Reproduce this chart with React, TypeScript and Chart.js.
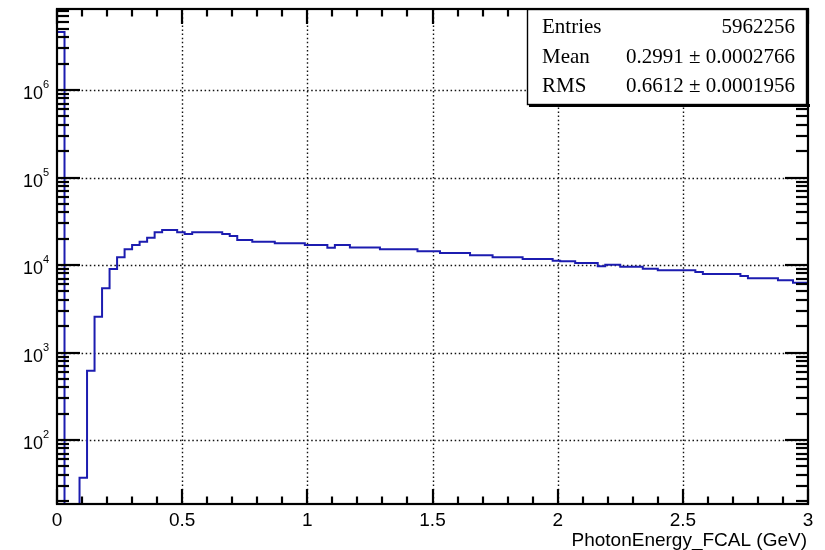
import React, { useEffect, useRef } from 'react';
import { Chart, registerables } from 'chart.js';

Chart.register(...registerables);

// ---- data ----
const X_MIN = 0;
const X_MAX = 3;
const Y_MIN = 18.56;
const Y_MAX = 8.43e6;

// bin contents, 100 bins of 0.03 GeV from 0 to 3
const counts = [
  4600000, 0, 0, 37, 620, 2560, 5420, 9000, 12250, 15100,
  16950, 18470, 20500, 23650, 25100, 25100, 23700, 22600, 23700, 23700,
  23700, 23700, 22600, 21400, 19300, 19300, 18450, 18450, 18450, 17700,
  17700, 17700, 17700, 16930, 16930, 16930, 15780, 16930, 16930, 15900,
  15900, 15900, 15900, 15100, 15100, 15100, 15100, 15100, 14330, 14330,
  14330, 13700, 13700, 13700, 13700, 12900, 12900, 12900, 12250, 12250,
  12250, 12250, 11720, 11720, 11720, 11720, 11200, 11020, 11020, 10540,
  10540, 10540, 9660, 10100, 10100, 9570, 9570, 9570, 9080, 9080,
  8690, 8690, 8690, 8690, 8690, 8320, 7900, 7900, 7900, 7900,
  7900, 7500, 7080, 7080, 7080, 7080, 6700, 6700, 6250, 6250,
];

const xMajorTicks = [0, 0.5, 1, 1.5, 2, 2.5, 3];
const xTickLabels = ['0', '0.5', '1', '1.5', '2', '2.5', '3'];
const yDecadeExponents = [2, 3, 4, 5, 6];
const xTitle = 'PhotonEnergy_FCAL (GeV)';

const statNames = ['Entries', 'Mean', 'RMS'];
const statValues = ['5962256', '0.2991 \u00b1 0.0002766', '0.6612 \u00b1 0.0001956'];

const LINE_COLOR = '#1c1cb0';

function line(ctx: CanvasRenderingContext2D, x1: number, y1: number, x2: number, y2: number) {
  ctx.beginPath();
  ctx.moveTo(x1, y1);
  ctx.lineTo(x2, y2);
  ctx.stroke();
}

const rootPlugin = {
  id: 'rootStyle',
  beforeDatasetsDraw(chart: any) {
    const { ctx, chartArea: a, scales } = chart;
    const xs = scales.x;
    const ys = scales.y;
    ctx.save();
    ctx.strokeStyle = '#111';
    ctx.lineWidth = 1.4;
    ctx.setLineDash([1.5, 2.6]);
    xMajorTicks.forEach((v) => {
      if (v <= X_MIN || v >= X_MAX) return;
      const px = Math.round(xs.getPixelForValue(v)) + 0.5;
      line(ctx, px, a.top, px, a.bottom);
    });
    yDecadeExponents.forEach((e) => {
      const py = Math.round(ys.getPixelForValue(Math.pow(10, e))) + 0.5;
      line(ctx, a.left, py, a.right, py);
    });
    ctx.restore();
  },
  afterDatasetsDraw(chart: any) {
    const { ctx, chartArea: a, scales } = chart;
    const xs = scales.x;
    const ys = scales.y;
    ctx.save();
    ctx.setLineDash([]);
    ctx.strokeStyle = '#000';
    ctx.fillStyle = '#000';
    ctx.lineWidth = 2.2;

    // x ticks (bottom and top, inward)
    for (let i = 0; i <= 30; i++) {
      const v = i / 10;
      const px = Math.round(xs.getPixelForValue(v));
      const len = i % 5 === 0 ? 15 : 7.5;
      line(ctx, px, a.bottom, px, a.bottom - len);
      line(ctx, px, a.top, px, a.top + len);
    }
    // y ticks (left and right, inward)
    for (let e = 1; e <= 7; e++) {
      for (let m = 1; m <= 9; m++) {
        const v = m * Math.pow(10, e);
        if (v < Y_MIN || v > Y_MAX) continue;
        const py = Math.round(ys.getPixelForValue(v));
        const len = m === 1 ? 23 : 12;
        line(ctx, a.left, py, a.left + len, py);
        line(ctx, a.right, py, a.right - len, py);
      }
    }
    // frame
    ctx.lineWidth = 2.2;
    ctx.strokeRect(a.left, a.top, a.right - a.left, a.bottom - a.top);

    // x tick labels
    ctx.font = '19px "Liberation Sans", Arial, sans-serif';
    ctx.textAlign = 'center';
    ctx.textBaseline = 'alphabetic';
    xMajorTicks.forEach((v, i) => {
      const px = xs.getPixelForValue(v);
      ctx.fillText(xTickLabels[i], px, a.bottom + 22);
    });
    // y tick labels 10^n
    yDecadeExponents.forEach((e) => {
      const py = ys.getPixelForValue(Math.pow(10, e));
      ctx.font = '18px "Liberation Sans", Arial, sans-serif';
      ctx.textAlign = 'right';
      ctx.fillText('10', a.left - 14, py + 9);
      ctx.font = '11px "Liberation Sans", Arial, sans-serif';
      ctx.textAlign = 'left';
      ctx.fillText(String(e), a.left - 14, py - 2);
    });
    // x axis title
    ctx.font = '19px "Liberation Sans", Arial, sans-serif';
    ctx.textAlign = 'right';
    ctx.fillText(xTitle, a.right - 1, a.bottom + 42);

    // stats box
    const bl = a.right - 281;
    const bt = a.top;
    const bw = 280;
    const bh = 96;
    ctx.fillStyle = '#fff';
    ctx.fillRect(bl, bt, bw, bh);
    ctx.fillStyle = '#000';
    ctx.fillRect(bl + 2, bt + bh - 1, bw + 1, 3);
    ctx.fillRect(bl + bw - 1, bt + 2, 3, bh);
    ctx.lineWidth = 1.4;
    ctx.strokeRect(bl + 0.5, bt + 0.5, bw - 1, bh - 1);

    ctx.font = '21px "Liberation Serif", "Times New Roman", serif';
    const baselines = [24, 54, 83];
    statNames.forEach((n, i) => {
      ctx.textAlign = 'left';
      ctx.fillText(n, bl + 15, bt + baselines[i]);
      ctx.textAlign = 'right';
      ctx.fillText(statValues[i], bl + 268, bt + baselines[i]);
    });
    ctx.restore();
  },
};

export default function App() {
  const canvasRef = useRef<HTMLCanvasElement | null>(null);

  useEffect(() => {
    const canvas = canvasRef.current;
    if (!canvas) return;
    const binWidth = (X_MAX - X_MIN) / counts.length;
    const pts: { x: number; y: number }[] = [{ x: X_MIN, y: 1 }];
    counts.forEach((c, i) => {
      pts.push({ x: X_MIN + i * binWidth, y: c > 0 ? c : 1 });
    });
    pts.push({ x: X_MAX, y: counts[counts.length - 1] });

    const chart = new Chart(canvas, {
      type: 'line',
      data: {
        datasets: [
          {
            data: pts,
            stepped: true,
            borderColor: LINE_COLOR,
            borderWidth: 2,
            pointRadius: 0,
            fill: false,
            tension: 0,
          },
        ],
      },
      options: {
        responsive: false,
        animation: false,
        layout: { padding: { left: 57, right: 17, top: 9, bottom: 46 } },
        scales: {
          x: { type: 'linear', min: X_MIN, max: X_MAX, display: false },
          y: { type: 'logarithmic', min: Y_MIN, max: Y_MAX, display: false },
        },
        plugins: { legend: { display: false }, tooltip: { enabled: false } },
      },
      plugins: [rootPlugin],
    } as any);
    return () => chart.destroy();
  }, []);

  return (
    <div style={{ position: 'fixed', left: 0, top: 0, width: 825, height: 550, background: '#fff' }}>
      <canvas ref={canvasRef} width={825} height={550} style={{ width: 825, height: 550, display: 'block' }} />
    </div>
  );
}
